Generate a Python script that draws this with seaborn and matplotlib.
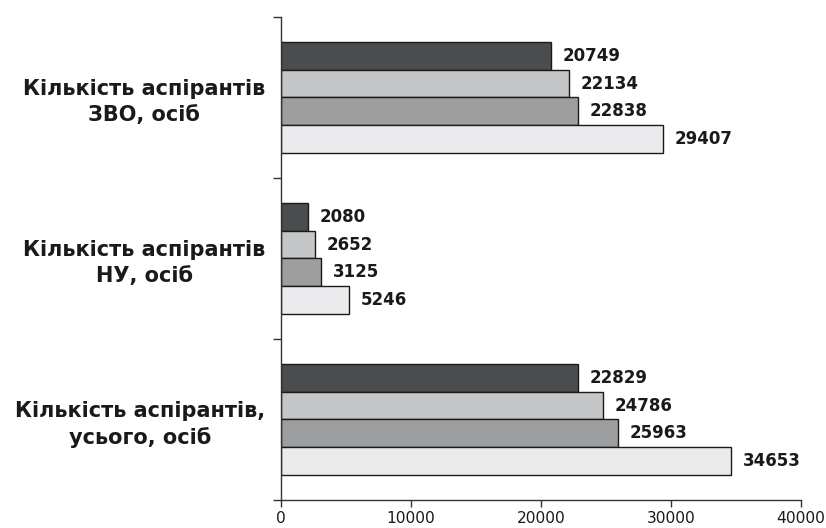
import numpy as np
import pandas as pd
import matplotlib
matplotlib.use("Agg")
import matplotlib.pyplot as plt
import seaborn as sns

sns.set_style("ticks")
plt.rcParams["font.family"] = ["DejaVu Sans"]

categories = ["Кількість аспірантів\nЗВО, осіб",
              "Кількість аспірантів\nНУ, осіб",
              "Кількість аспірантів,\nусього, осіб"]
series = ["Ряд 1", "Ряд 2", "Ряд 3", "Ряд 4"]
values_s1 = [20749, 2080, 22829]
values_s2 = [22134, 2652, 24786]
values_s3 = [22838, 3125, 25963]
values_s4 = [29407, 5246, 34653]
colors = ["#4b4c4e", "#c5c6c8", "#9d9ea0", "#ebebed"]
xticks = [0, 10000, 20000, 30000, 40000]

df = pd.DataFrame({
    "category": categories * 4,
    "series": np.repeat(series, 3),
    "value": values_s1 + values_s2 + values_s3 + values_s4,
})

fig = plt.figure(figsize=(8.26, 5.28), dpi=100)
ax = fig.add_axes([0.3398, 0.053, 0.6300, 0.915])

sns.barplot(data=df, x="value", y="category", hue="series", order=categories,
            hue_order=series, palette=colors, orient="h", width=0.69,
            edgecolor="#1a1a1a", linewidth=1, legend=False, ax=ax)

for cont in ax.containers:
    ax.bar_label(cont, fmt="%d", padding=8.3, fontsize=12, fontweight="bold", color="#1a1a1a")

ax.set_xlim(0, 40000)
ax.set_ylim(2.5, -0.5)
ax.set_xticks(xticks)
ax.set_xticklabels([str(t) for t in xticks], fontsize=11.2, color="#1a1a1a")
ax.set_xlabel("")
ax.set_ylabel("")

# category labels at band centres, tick marks at band boundaries
ax.set_yticks(range(len(categories)))
ax.set_yticklabels(categories, fontsize=15, fontweight="bold", linespacing=1.37, color="#1a1a1a")
for t in ax.get_yticklabels():
    t.set_multialignment("center")
ax.tick_params(axis="y", which="major", length=0, pad=11)
ax.set_yticks([-0.5, 0.5, 1.5, 2.5], minor=True)
ax.tick_params(axis="y", which="minor", length=6, width=1, color="#333333", direction="out")
ax.tick_params(axis="x", length=5, width=1, color="#333333", direction="out", pad=3)

sns.despine(ax=ax)
for s in ["left", "bottom"]:
    ax.spines[s].set_color("#333333")
    ax.spines[s].set_linewidth(1)

fig.savefig("out.png", dpi=100)
